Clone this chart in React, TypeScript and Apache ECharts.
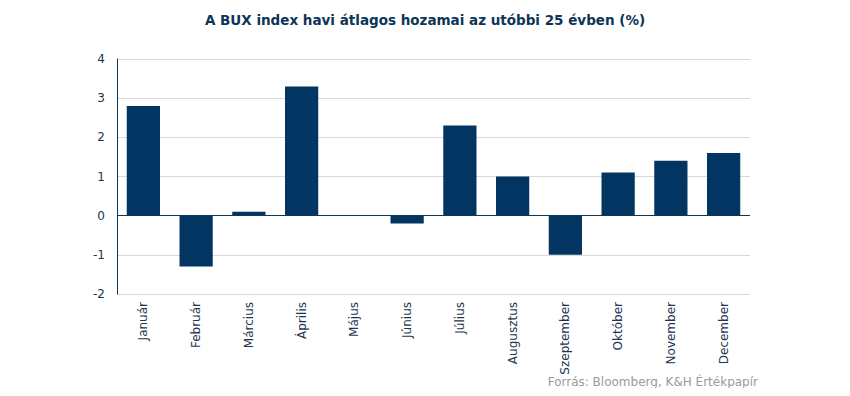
import React, { useEffect, useRef } from "react";
import * as echarts from "echarts";

const categories = ["Január", "Február", "Március", "Április", "Május", "Június", "Július", "Augusztus", "Szeptember", "Október", "November", "December"];
const values = [2.8, -1.3, 0.1, 3.3, 0, -0.2, 2.3, 1.0, -1.0, 1.1, 1.4, 1.6];
const titleText = "A BUX index havi átlagos hozamai az utóbbi 25 évben (%)";
const sourceText = "Forrás: Bloomberg, K&H Értékpapír";

const FONT = "'DejaVu Sans', Verdana, sans-serif";

export default function App() {
  const ref = useRef<HTMLDivElement>(null);
  useEffect(() => {
    if (!ref.current) return;
    const chart = echarts.init(ref.current, undefined, { renderer: "svg" });
    chart.setOption({
      animation: false,
      title: {
        text: titleText,
        left: "center",
        top: 8,
        textStyle: { fontFamily: FONT, fontSize: 13.5, fontWeight: "bold", color: "#0d3556" },
      },
      graphic: [
        {
          type: "text",
          right: 92,
          top: 376,
          style: { text: sourceText, fontFamily: FONT, fontSize: 12, fill: "#9a9a9a" },
        },
      ],
      grid: { left: 117, right: 100, top: 59, bottom: 102, containLabel: false },
      xAxis: {
        type: "category",
        data: categories,
        axisLine: { show: false, onZero: false },
        axisTick: { show: false },
        axisLabel: { rotate: 90, fontFamily: FONT, fontSize: 12, color: "#1e3550", margin: 8 },
      },
      yAxis: {
        type: "value",
        min: -2,
        max: 4,
        interval: 1,
        axisLine: { show: true, lineStyle: { color: "#0d3556", width: 1 } },
        axisTick: { show: false },
        splitLine: { lineStyle: { color: "#d9d9d9" } },
        axisLabel: { fontFamily: FONT, fontSize: 12, color: "#1e3550", margin: 12 },
      },
      series: [
        {
          type: "bar",
          data: values,
          barWidth: "63%",
          itemStyle: { color: "#023562" },
          markLine: {
            silent: true,
            symbol: "none",
            label: { show: false },
            lineStyle: { color: "#0d3556", type: "solid", width: 1 },
            data: [{ yAxis: 0 }],
          },
        },
      ],
    });
    return () => chart.dispose();
  }, []);
  return <div ref={ref} style={{ width: 850, height: 396, margin: -8 }} />;
}
